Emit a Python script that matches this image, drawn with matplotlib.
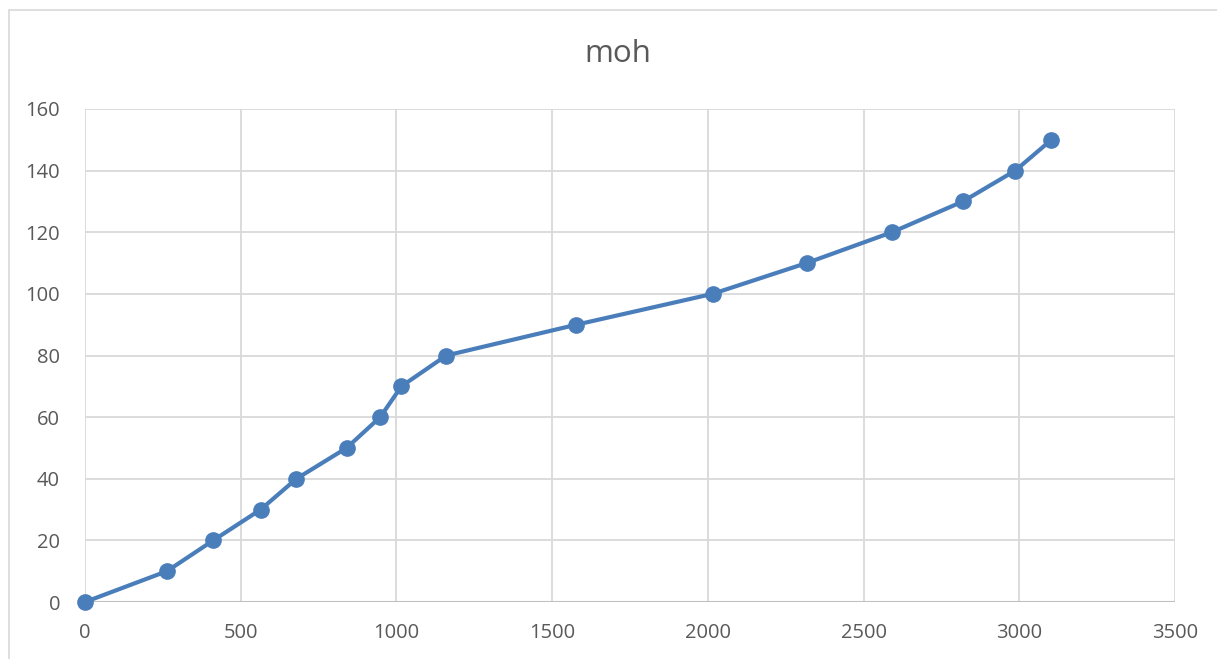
import matplotlib
matplotlib.use("Agg")
import matplotlib.pyplot as plt
from matplotlib.patches import Rectangle

title = "moh"
x_values = [0, 263, 412, 564, 679, 840, 948, 1016, 1160, 1578, 2015, 2317, 2591, 2819, 2987, 3103]
y_values = [0, 10, 20, 30, 40, 50, 60, 70, 80, 90, 100, 110, 120, 130, 140, 150]
x_ticks = [0, 500, 1000, 1500, 2000, 2500, 3000, 3500]
y_ticks = [0, 20, 40, 60, 80, 100, 120, 140, 160]

plt.rcParams['font.family'] = ['Open Sans', 'DejaVu Sans']

fig = plt.figure(figsize=(12.17, 6.59), dpi=100)
fig.patches.append(Rectangle((9/1217, -0.1), 1.2, 1 - 10/659 + 0.1, transform=fig.transFigure,
                             fill=False, edgecolor='#d9d9d9', linewidth=1.2))
ax = fig.add_axes([85/1217, 1 - 602/659, (1175 - 85)/1217, (602 - 109)/659])

line_color = '#4a7ebb'
ax.plot(x_values, y_values, color=line_color, linewidth=3, marker='o', markersize=11,
        zorder=3, clip_on=False)

ax.set_xlim(0, 3500)
ax.set_ylim(0, 160)
ax.set_xticks(x_ticks)
ax.set_yticks(y_ticks)
ax.grid(True, color='#d9d9d9', linewidth=1.3)
ax.set_axisbelow(True)
for s in ax.spines.values():
    s.set_visible(False)
ax.tick_params(length=0, labelsize=14.5, colors='#595959')
ax.tick_params(axis='x', pad=15)
ax.tick_params(axis='y', pad=18)
ax.axhline(0, color='#bfbfbf', linewidth=1.5, zorder=1)

fig.text(618/1217, 1 - 54/659, title, ha='center', va='center',
         fontsize=22.5, color='#595959')

fig.savefig("out.png", dpi=100)
